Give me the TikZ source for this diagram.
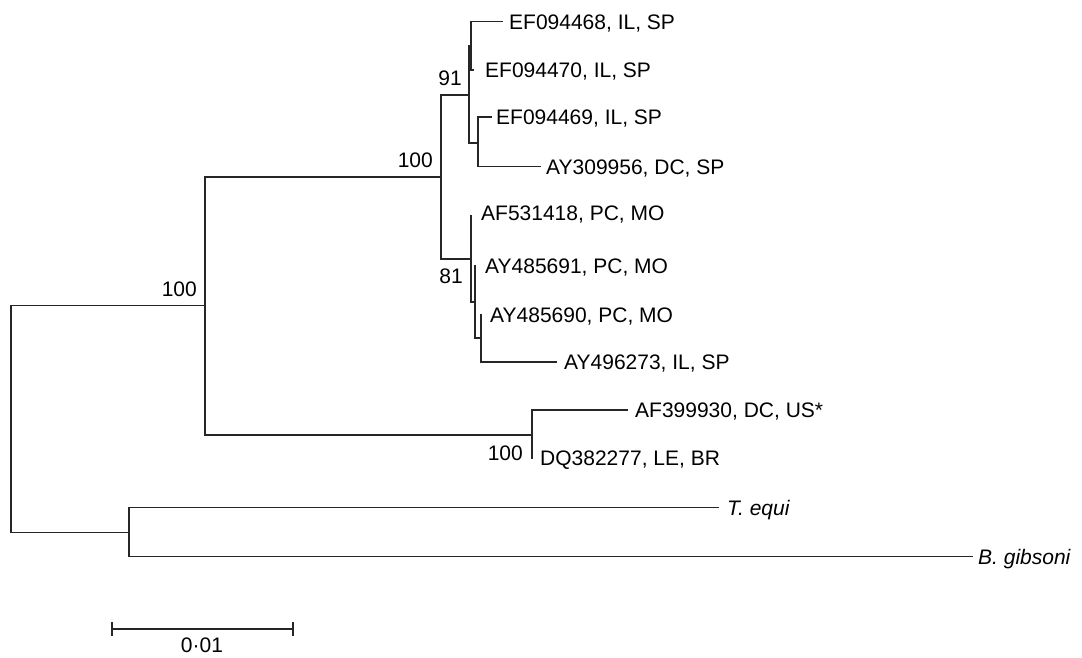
\documentclass[tikz,border=0pt]{standalone}
\usepackage{fontspec}
\setmainfont{Liberation Sans}
\begin{document}
\begin{tikzpicture}[x=1pt,y=-1pt,
  branch/.style={line width=1.1pt,draw=black!85,line cap=rect},
  leaf/.style={anchor=base west,inner sep=0pt,font=\fontsize{21}{24}\selectfont},
  boot/.style={anchor=base east,inner sep=0pt,font=\fontsize{21}{24}\selectfont}]
\useasboundingbox (0,0) rectangle (1082,657);
% internal nodes
\coordinate (R)   at (11,419);
\coordinate (N1)  at (205,305.7);
\coordinate (N2)  at (441,177);
\coordinate (N3)  at (532,435);
\coordinate (N4)  at (469,95);
\coordinate (N5)  at (471,259);
\coordinate (N6)  at (471,46);
\coordinate (N7)  at (478,143);
\coordinate (N8)  at (475,302);
\coordinate (N9)  at (481,338);
\coordinate (N10) at (129,532.3);
% leaf tips
\coordinate (L1)  at (502,21.7);
\coordinate (L2)  at (473,70);
\coordinate (L3)  at (491,117);
\coordinate (L4)  at (540,166.7);
\coordinate (L5)  at (471.6,216);
\coordinate (L6)  at (475.6,266);
\coordinate (L7)  at (481.6,315);
\coordinate (L8)  at (556,362);
\coordinate (L9)  at (627,410);
\coordinate (L10) at (532.6,458);
\coordinate (L11) at (718,507.7);
\coordinate (L12) at (972,556.7);
% branches
\draw[branch] (R) |- (N1);
\draw[branch] (R) |- (N10);
\draw[branch] (N1) |- (N2);
\draw[branch] (N1) |- (N3);
\draw[branch] (N2) |- (N4);
\draw[branch] (N2) |- (N5);
\draw[branch] (N4) |- (N6);
\draw[branch] (N4) |- (N7);
\draw[branch] (N6) |- (L1);
\draw[branch] (N6) |- (L2);
\draw[branch] (N7) |- (L3);
\draw[branch] (N7) |- (L4);
\draw[branch] (N5) |- (L5);
\draw[branch] (N5) |- (N8);
\draw[branch] (N8) |- (L6);
\draw[branch] (N8) |- (N9);
\draw[branch] (N9) |- (L7);
\draw[branch] (N9) |- (L8);
\draw[branch] (N3) |- (L9);
\draw[branch] (N3) |- (L10);
\draw[branch] (N10) |- (L11);
\draw[branch] (N10) |- (L12);
% leaf labels
\node[leaf] (t1)  at (509,29.2)  {EF094468, IL, SP};
\node[leaf] (t2)  at (485,77.5)  {EF094470, IL, SP};
\node[leaf] (t3)  at (496,124.5) {EF094469, IL, SP};
\node[leaf] (t4)  at (546,174.2) {AY309956, DC, SP};
\node[leaf] (t5)  at (481,220.7) {AF531418, PC, MO};
\node[leaf] (t6)  at (485,273.5) {AY485691, PC, MO};
\node[leaf] (t7)  at (490,322.5) {AY485690, PC, MO};
\node[leaf] (t8)  at (564,369.5) {AY496273, IL, SP};
\node[leaf] (t9)  at (635,417.5) {AF399930, DC, US*};
\node[leaf] (t10) at (540,465.5) {DQ382277, LE, BR};
\node[leaf] (t11) at (727,515.2) {\itshape T. equi};
\node[leaf] (t12) at (978,564.2) {\itshape B. gibsoni};
% bootstrap values
\node[boot] (b1) at (197,296) {100};
\node[boot] (b2) at (433,167) {100};
\node[boot] (b3) at (462,85)  {91};
\node[boot] (b4) at (463,283) {81};
\node[boot] (b5) at (523,460) {100};
% scale bar
\coordinate (s1) at (112,629);
\coordinate (s2) at (293,629);
\draw[branch,line cap=butt] (s1) -- (s2);
\draw[branch,line cap=butt] ([yshift=-7]s1) -- ([yshift=7]s1);
\draw[branch,line cap=butt] ([yshift=-7]s2) -- ([yshift=7]s2);
\node[anchor=base,inner sep=0pt,font=\fontsize{21}{24}\selectfont] (sl) at (202,652) {0·01};
\end{tikzpicture}
\end{document}
